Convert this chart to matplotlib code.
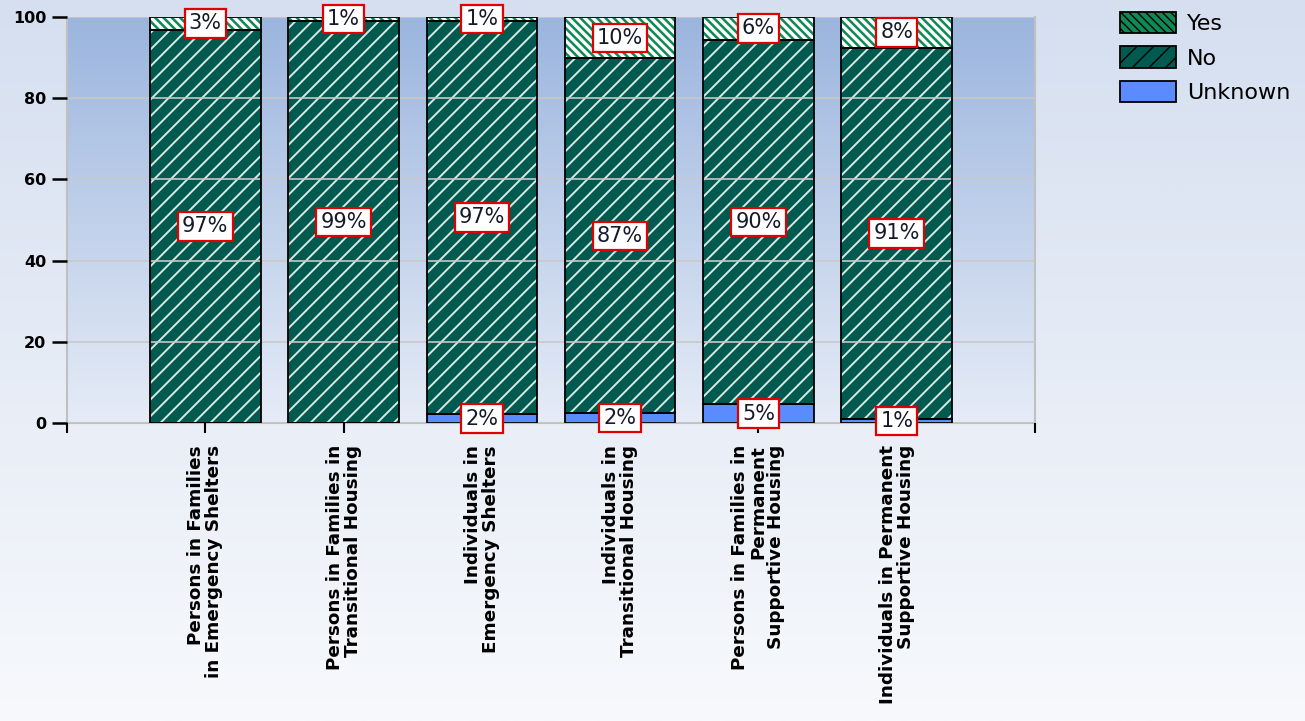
import matplotlib
matplotlib.use("Agg")
import matplotlib.pyplot as plt
import numpy as np
from matplotlib.patches import Patch

#==============================================================================
# Data
#==============================================================================
categories = ["Persons in Families\nin Emergency Shelters",
              "Persons in Families in\nTransitional Housing",
              "Individuals in\nEmergency Shelters",
              "Individuals in\nTransitional Housing",
              "Persons in Families in\nPermanent\nSupportive Housing",
              "Individuals in Permanent\nSupportive Housing"]
unknown = [0.0, 0.0, 2.2, 2.4, 4.6, 1.0]
no      = [96.8, 99.1, 96.9, 87.4, 89.8, 91.4]
yes     = [3.2, 0.9, 0.9, 10.2, 5.6, 7.6]
yticks  = [0, 20, 40, 60, 80, 100]

c_yes = "#0e8a55"
c_no = "#005a50"
c_unk = "#5b8cff"

fig = plt.figure(figsize=(13.05, 7.21), dpi=100)

# figure background gradient
bg = fig.add_axes([0, 0, 1, 1], zorder=-10)
grad = np.linspace(0, 1, 256).reshape(-1, 1)
cmap_fig = matplotlib.colors.LinearSegmentedColormap.from_list("f", ["#d5dff0", "#f7f9fc"])
bg.imshow(grad, aspect='auto', cmap=cmap_fig, extent=[0, 1, 0, 1])
bg.axis('off')

ax = fig.add_axes([67/1305, 1 - 423/721, (1035-67)/1305, (423-17)/721])
ax.set_xlim(-1, 6)
ax.set_ylim(0, 100)
cmap_ax = matplotlib.colors.LinearSegmentedColormap.from_list("a", ["#9bb5de", "#e6ecf7"])
ax.imshow(grad, aspect='auto', cmap=cmap_ax, extent=[-1, 6, 0, 100], zorder=0)

x = np.arange(len(categories))
w = 0.8
unk = np.array(unknown)
nn = np.array(no)
yy = np.array(yes)

# fills with hatch, then black outline
ax.bar(x, unk, w, color=c_unk, linewidth=0, zorder=2)
with plt.rc_context({'hatch.linewidth': 1.4}):
    ax.bar(x, nn, w, bottom=unk, color=c_no, edgecolor="#d8e8e4", hatch='//', linewidth=0, zorder=2)
with plt.rc_context({'hatch.linewidth': 2.4}):
    ax.bar(x, yy, w, bottom=unk + nn, color=c_yes, edgecolor="white", hatch='\\\\\\\\', linewidth=0, zorder=2)
for vals, bot in [(unk, 0), (nn, unk), (yy, unk + nn)]:
    ax.bar(x, vals, w, bottom=bot, fill=False, edgecolor="black", linewidth=1.3, zorder=3)

# value labels
box = dict(boxstyle='square,pad=0.2', fc='white', ec='#e00000', lw=1.6)
for i in range(len(categories)):
    segs = [(unk[i], 0), (nn[i], unk[i]), (yy[i], unk[i] + nn[i])]
    for v, b in segs:
        if v <= 0:
            continue
        ax.text(x[i], b + v / 2, "%d%%" % round(v), ha='center', va='center',
                fontsize=15, color="#141a2a", bbox=box, zorder=5, clip_on=False)

ax.set_yticks(yticks)
ax.set_yticklabels([str(t) for t in yticks], fontsize=11.5, fontweight='bold')
ax.yaxis.grid(True, color="#c8c8c8", linewidth=1.2, zorder=1)
ax.set_axisbelow(False)
ax.tick_params(axis='y', length=11, width=1.8, color='black', pad=4)

ax.set_xticks(np.arange(-1, 7))
ax.set_xticklabels([""] + categories + [""], rotation=90, fontsize=13.2,
                   fontweight='bold', va='top', ha='center', multialignment='right',
                   linespacing=1.0)
ax.tick_params(axis='x', length=7, width=1.5, color='black', pad=9)

ax.spines['top'].set_visible(False)
for s in ['left', 'bottom', 'right']:
    ax.spines[s].set_color("#c0c0c0")
    ax.spines[s].set_linewidth(1.5)

handles = [Patch(facecolor=c_yes, edgecolor="white", hatch='\\\\\\\\', label="Yes"),
           Patch(facecolor=c_no, edgecolor="#d8e8e4", hatch='//', label="No"),
           Patch(facecolor=c_unk, edgecolor="black", label="Unknown")]
leg = fig.legend(handles=handles, loc='upper left', bbox_to_anchor=(1100/1305, 1 + 8/721),
                 frameon=False, fontsize=16, handlelength=2.5, handleheight=1.1,
                 labelspacing=0.55, handletextpad=0.5)
for p in leg.get_patches():
    p.set_linewidth(1.3)
    p.set_edgecolor("black")

fig.savefig('out.png', dpi=100)
